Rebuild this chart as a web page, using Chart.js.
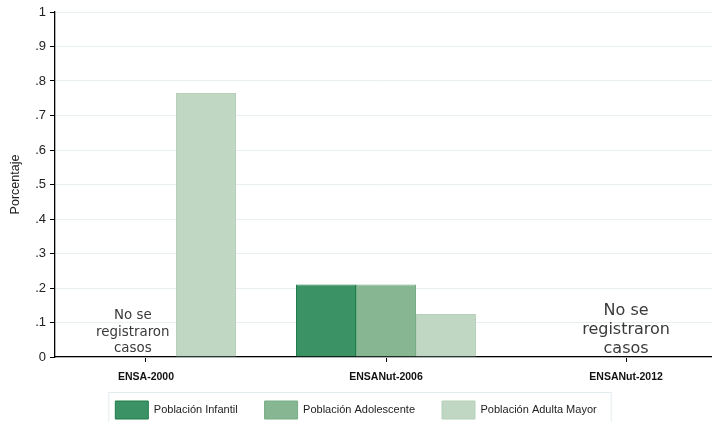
<!DOCTYPE html>
<html>
<head>
	<title>Porcentaje por encuesta</title>
	<script src="https://cdn.jsdelivr.net/npm/chart.js@4"></script>
<style>
	body { margin: 0; background: #fff; }
	#wrap { width: 712px; height: 422px; }
</style>
</head>
<body>
<div id="wrap">
	<canvas id="plot"></canvas>
</div>

<script>
var surveys = ['ENSA-2000', 'ENSANut-2006', 'ENSANut-2012'];
var infantil = [null, 0.21, null];
var adolescente = [null, 0.21, null];
var adultaMayor = [0.765, 0.125, null];
var yTicks = ['0', '.1', '.2', '.3', '.4', '.5', '.6', '.7', '.8', '.9', '1'];
var noCases = ['No se', 'registraron', 'casos'];

function toPoints(vals) {
	return vals.map(function (v, i) { return { x: i, y: v }; });
}

// text for the surveys without data
var noCasesPlugin = {
	id: 'noCases',
	afterLayout: function (chart) {
		// let the x labels spill under the legend padding instead of being clipped
		var s = chart.scales.x;
		s.bottom = s.top + 32;
	},
	afterDatasetsDraw: function (chart) {
		var ctx = chart.ctx;
		var xs = chart.scales.x;
		var ys = chart.scales.y;
		ctx.save();
		ctx.fillStyle = '#3a3a3a';
		ctx.textAlign = 'center';
		ctx.textBaseline = 'middle';
		ctx.font = '13.4px "DejaVu Sans"';
		var y1 = [0.12, 0.07, 0.026];
		noCases.forEach(function (t, i) {
			ctx.fillText(t, xs.getPixelForValue(-0.055), ys.getPixelForValue(y1[i]));
		});
		ctx.font = '16px "DejaVu Sans"';
		var y3 = [0.134, 0.079, 0.023];
		noCases.forEach(function (t, i) {
			ctx.fillText(t, xs.getPixelForValue(2), ys.getPixelForValue(y3[i]));
		});
		ctx.restore();
	}
};

var legendBox = {
	id: 'legendBox',
	afterDraw: function (chart) {
		var lg = chart.legend;
		if (!lg || !lg.legendHitBoxes.length) return;
		var hb = lg.legendHitBoxes;
		var x0 = hb[0].left - 7;
		var x1 = hb[hb.length - 1].left + hb[hb.length - 1].width + 14;
		var ctx = chart.ctx;
		ctx.save();
		ctx.strokeStyle = '#e3ecee';
		ctx.lineWidth = 1;
		ctx.strokeRect(x0 + 0.5, hb[0].top - 8.5, x1 - x0, 40);
		ctx.restore();
	}
};

var ctx = document.getElementById('plot');
var chart = new Chart(ctx, {
	type: 'bar',
	data: {
		datasets: [{
			label: 'Población Infantil',
			data: toPoints(infantil),
			backgroundColor: '#3b9264',
			borderColor: '#1f7d4b',
			borderWidth: 1
		}, {
			label: 'Población Adolescente',
			data: toPoints(adolescente),
			backgroundColor: '#86b792',
			borderColor: '#76ad84',
			borderWidth: 1
		}, {
			label: 'Población Adulta Mayor',
			data: toPoints(adultaMayor),
			backgroundColor: '#c0d7c3',
			borderColor: '#b6d0b9',
			borderWidth: 1
		}]
	},
	options: {
		responsive: true,
		maintainAspectRatio: false,
		animation: false,
		categoryPercentage: 0.75,
		barPercentage: 1,
		layout: { padding: { top: 12, right: 0, left: 0, bottom: -7 } },
		plugins: {
			tooltip: { enabled: false },
			legend: {
				position: 'bottom',
				labels: {
					boxWidth: 33,
					boxHeight: 18,
					padding: 27,
					color: '#222',
					font: { family: 'Arial, "Liberation Sans"', size: 11 }
				}
			}
		},
		scales: {
			x: {
				type: 'linear',
				min: -0.379,
				max: 2.358,
				offset: false,
				border: { color: '#000', width: 1.3 },
				grid: { offset: false, drawOnChartArea: false, drawTicks: true, tickLength: 5, color: '#000' },
				ticks: {
					stepSize: 1,
					includeBounds: false,
					autoSkip: false,
					maxRotation: 0,
					padding: 9,
					color: '#111',
					font: { family: 'Arial, "Liberation Sans"', size: 10.5, weight: 'bold' },
					callback: function (v) { return surveys[v] || ''; }
				},
				afterFit: function (s) { s.height = 17; }
			},
			y: {
				min: 0,
				max: 1,
				border: { color: '#000', width: 1.3 },
				grid: { color: '#e7eff1', tickColor: '#000', tickLength: 5 },
				title: {
					display: true,
					text: 'Porcentaje',
					color: '#222',
					font: { family: 'Arial, "Liberation Sans"', size: 12.5 },
					padding: { top: 8, bottom: 0 }
				},
				ticks: {
					stepSize: 0.1,
					padding: 4,
					color: '#222',
					font: { family: 'Arial, "Liberation Sans"', size: 13 },
					callback: function (v, i) { return yTicks[i]; }
				},
				afterFit: function (s) { s.width = 55; }
			}
		}
	},
	plugins: [noCasesPlugin, legendBox]
});
</script>
</body>
</html>
